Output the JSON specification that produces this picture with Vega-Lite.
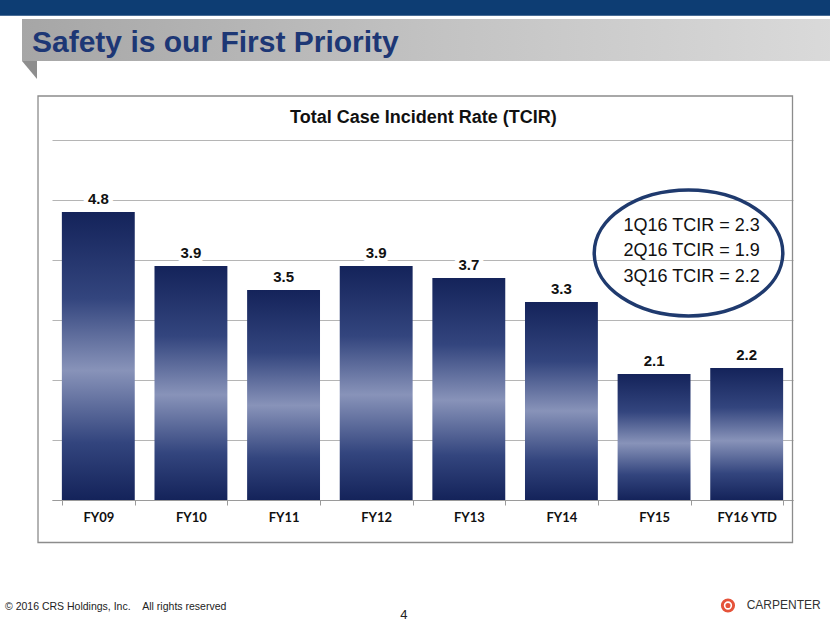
{
  "$schema": "https://vega.github.io/schema/vega-lite/v6.json",
  "width": 741,
  "height": 360,
  "autosize": {"type": "none"},
  "padding": {"left": 52, "top": 140, "right": 37, "bottom": 123},
  "background": "white",
  "config": {"view": {"stroke": null}, "font": "Liberation Sans"},
  "resolve": {"scale": {"x": "independent", "y": "independent"}},
  "layer": [
    {
      "data": {"values": [
        {"year": "FY09", "tcir": 4.8},
        {"year": "FY10", "tcir": 3.9},
        {"year": "FY11", "tcir": 3.5},
        {"year": "FY12", "tcir": 3.9},
        {"year": "FY13", "tcir": 3.7},
        {"year": "FY14", "tcir": 3.3},
        {"year": "FY15", "tcir": 2.1},
        {"year": "FY16 YTD", "tcir": 2.2}
      ]},
      "encoding": {
        "x": {
          "field": "year", "type": "nominal", "sort": null,
          "scale": {"paddingInner": 0.213, "paddingOuter": 0.1065},
          "axis": {
            "title": null, "labelAngle": 0, "labelFont": "Lato", "labelFontWeight": "bold",
            "labelFontSize": 13, "labelColor": "#111111", "labelPadding": 6,
            "tickBand": "extent", "tickSize": 5, "tickColor": "#9a9a9a",
            "domainColor": "#9a9a9a", "grid": false
          }
        },
        "y": {
          "field": "tcir", "type": "quantitative",
          "scale": {"domain": [0, 6], "nice": false},
          "axis": {
            "title": null, "labels": false, "ticks": false, "domain": false,
            "grid": true, "gridColor": "#b5b5b5", "values": [0, 1, 2, 3, 4, 5, 6]
          }
        }
      },
      "layer": [
        {
          "mark": {
            "type": "bar",
            "fill": {
              "gradient": "linear", "x1": 0, "y1": 0, "x2": 0, "y2": 1,
              "stops": [
                {"offset": 0, "color": "#14235a"},
                {"offset": 0.3, "color": "#33457e"},
                {"offset": 0.55, "color": "#8893b9"},
                {"offset": 0.8, "color": "#33457e"},
                {"offset": 1, "color": "#14235a"}
              ]
            }
          }
        },
        {
          "mark": {"type": "text", "dy": -8, "baseline": "alphabetic", "fontSize": 15, "fontWeight": "bold",
                   "fill": "white", "stroke": "white", "strokeWidth": 9, "strokeJoin": "round"},
          "encoding": {"text": {"field": "tcir", "type": "quantitative", "format": ".1f"}}
        },
        {
          "mark": {"type": "text", "dy": -8, "baseline": "alphabetic", "fontSize": 15, "fontWeight": "bold", "fill": "#111111"},
          "encoding": {"text": {"field": "tcir", "type": "quantitative", "format": ".1f"}}
        }
      ]
    },
    {
      "layer": [
        {
          "data": {"values": [{"x": -0.6, "x2": 8.45, "y": 8.45, "y2": 8.0717}]},
          "mark": {"type": "rect", "fill": "#0d3d73"},
          "encoding": {
            "x": {"field": "x", "type": "quantitative", "scale": {"domain": [0, 8], "nice": false, "zero": false}, "axis": null},
            "x2": {"field": "x2"},
            "y": {"field": "y", "type": "quantitative", "scale": {"domain": [0, 6], "nice": false}, "axis": null},
            "y2": {"field": "y2"}
          }
        },
        {
          "data": {"values": [{"x": -0.3239, "x2": 8.45, "y": 8.0167, "y2": 7.3167}]},
          "mark": {"type": "rect", "fill": {
            "gradient": "linear", "x1": 0, "y1": 0, "x2": 1, "y2": 0,
            "stops": [
              {"offset": 0, "color": "#a6a6a6"},
              {"offset": 0.5, "color": "#c2c2c2"},
              {"offset": 1, "color": "#dadada"}
            ]}},
          "encoding": {
            "x": {"field": "x", "type": "quantitative", "scale": {"domain": [0, 8], "nice": false, "zero": false}, "axis": null},
            "x2": {"field": "x2"},
            "y": {"field": "y", "type": "quantitative", "scale": {"domain": [0, 6], "nice": false}, "axis": null},
            "y2": {"field": "y2"}
          }
        },
        {
          "data": {"values": [{"x": -0.3239, "y": 7.3167, "y2": 7.3167}, {"x": -0.1619, "y": 7.3167, "y2": 7.0167}]},
          "mark": {"type": "area", "fill": "#8e8e8e", "opacity": 1},
          "encoding": {
            "x": {"field": "x", "type": "quantitative", "scale": {"domain": [0, 8], "nice": false, "zero": false}, "axis": null},
            "y": {"field": "y", "type": "quantitative", "scale": {"domain": [0, 6], "nice": false}, "axis": null},
            "y2": {"field": "y2"}
          }
        },
        {
          "data": {"values": [{"x": -0.1511, "x2": 7.9946, "y": 6.7333, "y2": -0.7083}]},
          "mark": {"type": "rect", "fill": null, "fillOpacity": 0, "stroke": "#8c8c8c", "strokeWidth": 1.3},
          "encoding": {
            "x": {"field": "x", "type": "quantitative", "scale": {"domain": [0, 8], "nice": false, "zero": false}, "axis": null},
            "x2": {"field": "x2"},
            "y": {"field": "y", "type": "quantitative", "scale": {"domain": [0, 6], "nice": false}, "axis": null},
            "y2": {"field": "y2"}
          }
        },
        {
          "data": {"values": [{"x": -0.2159, "y": 7.4667, "label": "Safety is our First Priority"}]},
          "mark": {"type": "text", "align": "left", "baseline": "alphabetic", "fontSize": 30, "fontWeight": "bold", "fill": "#1d3775"},
          "encoding": {
            "x": {"field": "x", "type": "quantitative", "scale": {"domain": [0, 8], "nice": false, "zero": false}, "axis": null},
            "y": {"field": "y", "type": "quantitative", "scale": {"domain": [0, 6], "nice": false}, "axis": null},
            "text": {"field": "label"}
          }
        },
        {
          "data": {"values": [{"x": 4.01, "y": 6.278, "label": "Total Case Incident Rate (TCIR)"}]},
          "mark": {"type": "text", "align": "center", "baseline": "alphabetic", "fontSize": 18, "fontWeight": "bold", "fill": "#111111"},
          "encoding": {
            "x": {"field": "x", "type": "quantitative", "scale": {"domain": [0, 8], "nice": false, "zero": false}, "axis": null},
            "y": {"field": "y", "type": "quantitative", "scale": {"domain": [0, 6], "nice": false}, "axis": null},
            "text": {"field": "label"}
          }
        },
        {
          "data": {"values": [{"x": 6.872, "y": 4.117}]},
          "mark": {"type": "point", "shape": "M 1 0 C 1 0.369 0.5523 0.668 0 0.668 C -0.5523 0.668 -1 0.369 -1 0 C -1 -0.369 -0.5523 -0.668 0 -0.668 C 0.5523 -0.668 1 -0.369 1 0 Z",
                   "size": 35570, "filled": false, "stroke": "#1f3a6e", "strokeWidth": 3.5, "opacity": 1},
          "encoding": {
            "x": {"field": "x", "type": "quantitative", "scale": {"domain": [0, 8], "nice": false, "zero": false}, "axis": null},
            "y": {"field": "y", "type": "quantitative", "scale": {"domain": [0, 6], "nice": false}, "axis": null}
          }
        },
        {
          "data": {"values": [
            {"x": 6.906, "y": 4.488, "label": "1Q16 TCIR = 2.3"},
            {"x": 6.906, "y": 4.067, "label": "2Q16 TCIR = 1.9"},
            {"x": 6.906, "y": 3.638, "label": "3Q16 TCIR = 2.2"}
          ]},
          "mark": {"type": "text", "align": "center", "baseline": "alphabetic", "fontSize": 18, "fill": "#111111"},
          "encoding": {
            "x": {"field": "x", "type": "quantitative", "scale": {"domain": [0, 8], "nice": false, "zero": false}, "axis": null},
            "y": {"field": "y", "type": "quantitative", "scale": {"domain": [0, 6], "nice": false}, "axis": null},
            "text": {"field": "label"}
          }
        },
        {
          "data": {"values": [{"x": -0.5076, "y": -1.8333, "label": "© 2016 CRS Holdings, Inc.\u00a0\u00a0\u00a0\u00a0All rights reserved"}]},
          "mark": {"type": "text", "align": "left", "baseline": "alphabetic", "fontSize": 10.5, "fill": "#222222"},
          "encoding": {
            "x": {"field": "x", "type": "quantitative", "scale": {"domain": [0, 8], "nice": false, "zero": false}, "axis": null},
            "y": {"field": "y", "type": "quantitative", "scale": {"domain": [0, 6], "nice": false}, "axis": null},
            "text": {"field": "label"}
          }
        },
        {
          "data": {"values": [{"x": 3.8, "y": -1.983, "label": "4"}]},
          "mark": {"type": "text", "align": "center", "baseline": "alphabetic", "fontSize": 13, "fill": "#222222"},
          "encoding": {
            "x": {"field": "x", "type": "quantitative", "scale": {"domain": [0, 8], "nice": false, "zero": false}, "axis": null},
            "y": {"field": "y", "type": "quantitative", "scale": {"domain": [0, 6], "nice": false}, "axis": null},
            "text": {"field": "label"}
          }
        },
        {
          "data": {"values": [{"x": 7.298, "y": -1.758}]},
          "mark": {"type": "point", "shape": "circle", "size": 200, "filled": true, "color": "#e5533a", "opacity": 1},
          "encoding": {
            "x": {"field": "x", "type": "quantitative", "scale": {"domain": [0, 8], "nice": false, "zero": false}, "axis": null},
            "y": {"field": "y", "type": "quantitative", "scale": {"domain": [0, 6], "nice": false}, "axis": null}
          }
        },
        {
          "data": {"values": [{"x": 7.298, "y": -1.758}]},
          "mark": {"type": "point", "shape": "circle", "size": 45, "filled": false, "stroke": "white", "strokeWidth": 1.6, "opacity": 1},
          "encoding": {
            "x": {"field": "x", "type": "quantitative", "scale": {"domain": [0, 8], "nice": false, "zero": false}, "axis": null},
            "y": {"field": "y", "type": "quantitative", "scale": {"domain": [0, 6], "nice": false}, "axis": null}
          }
        },
        {
          "data": {"values": [{"x": 7.5, "y": -1.822, "label": "CARPENTER"}]},
          "mark": {"type": "text", "align": "left", "baseline": "alphabetic", "fontSize": 12, "fill": "#333333"},
          "encoding": {
            "x": {"field": "x", "type": "quantitative", "scale": {"domain": [0, 8], "nice": false, "zero": false}, "axis": null},
            "y": {"field": "y", "type": "quantitative", "scale": {"domain": [0, 6], "nice": false}, "axis": null},
            "text": {"field": "label"}
          }
        }
      ]
    }
  ]
}
